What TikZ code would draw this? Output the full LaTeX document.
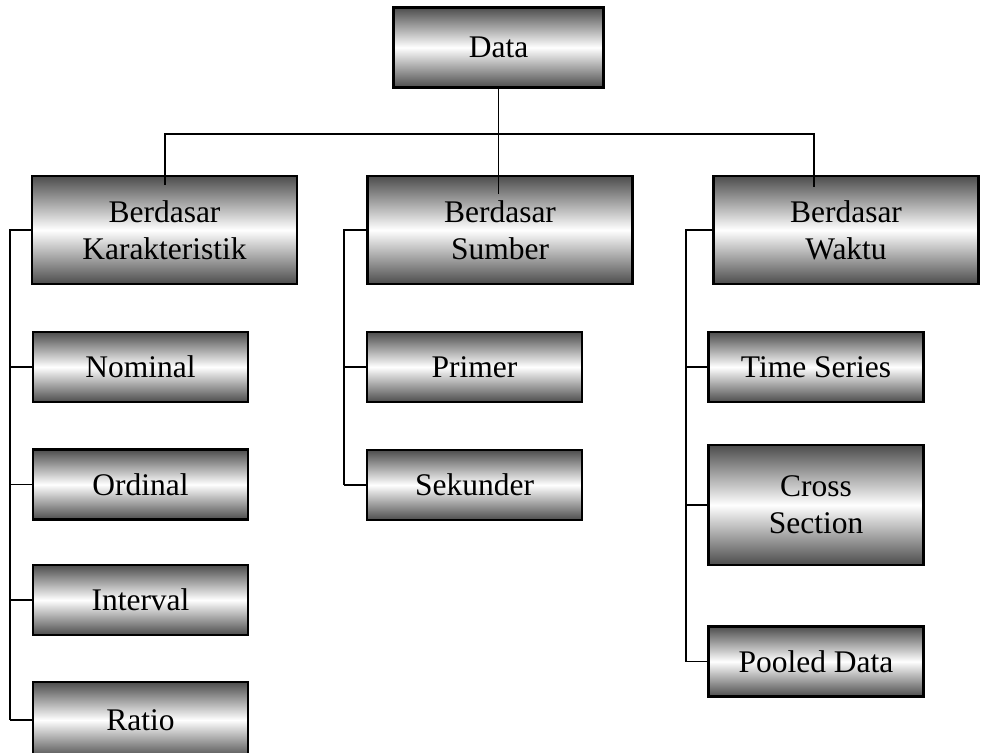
\documentclass[tikz,border=0pt]{standalone}
\usepackage{fontspec}
\setmainfont{Liberation Serif}
\usepackage{tikz}
\usetikzlibrary{calc}
\newcommand{\boxfont}{\fontsize{15.75}{18.5}\selectfont}
\begin{document}
\begin{tikzpicture}[x=0.5pt,y=-0.5pt]
			\tikzstyle{every node}+=[inner sep=0pt]
			\tikzstyle{gradbox}=[draw=black, line width=1.2pt, top color=black!70, bottom color=black!70, middle color=white, align=center, font=\boxfont]
			\tikzstyle{topbox}=[gradbox, minimum width=105pt, minimum height=40pt]
			\tikzstyle{groupbox}=[gradbox, minimum width=132.5pt, minimum height=54pt]
			\tikzstyle{leafbox}=[gradbox, minimum width=107.5pt, minimum height=35pt]
			\tikzstyle{link}=[draw=black, line width=0.8pt]
			\useasboundingbox (0,0) rectangle (986,752);
			\node [topbox] (data) at (498.5,47.5) {Data};
			\node [groupbox] (kar) at (164.5,230) {Berdasar\\Karakteristik};
			\node [groupbox] (sumber) at (500,230) {Berdasar\\Sumber};
			\node [groupbox] (waktu) at (846,230) {Berdasar\\Waktu};
			\node [leafbox] (nominal) at (140.5,367) {Nominal};
			\node [leafbox] (ordinal) at (140.5,484.5) {Ordinal};
			\node [leafbox] (interval) at (140.5,600) {Interval};
			\node [leafbox, minimum height=38pt] (ratio) at (140.5,720) {Ratio};
			\node [leafbox] (primer) at (474.5,367) {Primer};
			\node [leafbox] (sekunder) at (474.5,485) {Sekunder};
			\node [leafbox] (series) at (816,367) {Time Series};
			\node [leafbox, minimum height=60pt] (cross) at (816,505) {Cross\\Section};
			\node [leafbox] (pooled) at (816,661.5) {Pooled Data};
			\coordinate (busL) at (165,134);
			\coordinate (busR) at (814,134);
			\coordinate (railK) at (10,0);
			\coordinate (railS) at (344,0);
			\coordinate (railW) at (686,0);
			\draw [link] (data.south) -- ($(data.south |- sumber.north)+(0,19)$);
			\draw [link] ($(busL |- kar.north)+(0,10)$) -- (busL) -- (busR) -- ($(busR |- waktu.north)+(0,12)$);
			\draw [link] (kar.west) -| (ratio.west -| railK);
			\foreach \n in {nominal,ordinal,interval,ratio}
				\draw [link] (\n.west) -- (\n.west -| railK);
			\draw [link] (sumber.west) -| (sekunder.west -| railS);
			\foreach \n in {primer,sekunder}
				\draw [link] (\n.west) -- (\n.west -| railS);
			\draw [link] (waktu.west) -| (pooled.west -| railW);
			\foreach \n in {series,cross,pooled}
				\draw [link] (\n.west) -- (\n.west -| railW);
\end{tikzpicture}
\end{document}
